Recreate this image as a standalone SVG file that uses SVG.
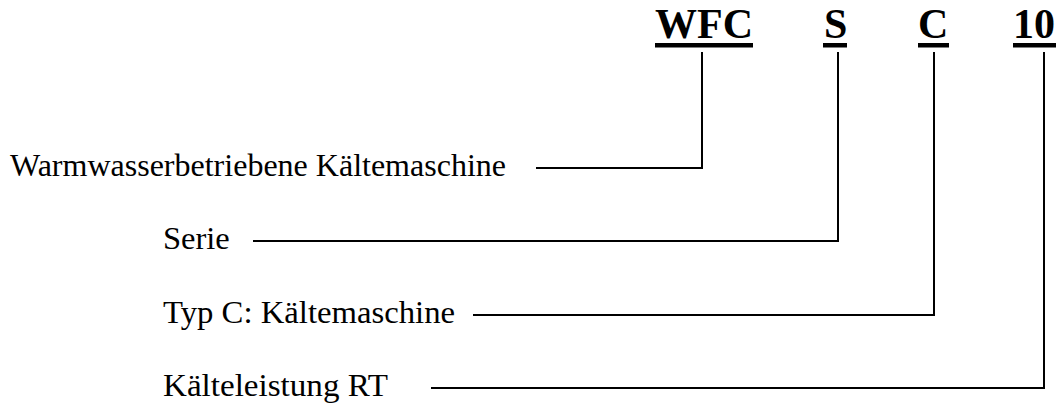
<svg xmlns="http://www.w3.org/2000/svg" width="1058" height="407" viewBox="0 0 1058 407">
<style>
.code{font-family:"Liberation Serif","Times New Roman",serif;font-weight:bold;font-size:42px;fill:#000}
.lbl{font-family:"Liberation Serif","Times New Roman",serif;font-size:32.5px;fill:#000}
.ul{fill:#000}
.conn{fill:none;stroke:#000;stroke-width:2}
</style>
<rect width="1058" height="407" fill="#fff"/>
<g id="code-WFC"><text class="code" x="655" y="38">WFC</text><rect class="ul" x="655" y="43" width="98" height="4.5"/></g>
<g id="code-S"><text class="code" x="824" y="38">S</text><rect class="ul" x="823" y="43" width="24" height="4.5"/></g>
<g id="code-C"><text class="code" x="918" y="38">C</text><rect class="ul" x="918" y="43" width="31" height="4.5"/></g>
<g id="code-10"><text class="code" x="1013" y="38">10</text><rect class="ul" x="1013" y="43" width="43" height="4.5"/></g>
<g id="label-warmwasser"><text class="lbl" x="10" y="176" textLength="496" lengthAdjust="spacingAndGlyphs">Warmwasserbetriebene Kältemaschine</text></g>
<g id="label-serie"><text class="lbl" x="163" y="249">Serie</text></g>
<g id="label-typ"><text class="lbl" x="163" y="323" textLength="292" lengthAdjust="spacingAndGlyphs">Typ C: Kältemaschine</text></g>
<g id="label-leistung"><text class="lbl" x="163" y="396" textLength="225" lengthAdjust="spacingAndGlyphs">Kälteleistung RT</text></g>
<g id="connectors">
<polyline class="conn" points="536,168 702,168 702,52"/>
<polyline class="conn" points="253,241 838,241 838,52"/>
<polyline class="conn" points="473,315 934,315 934,52"/>
<polyline class="conn" points="431,388 1044,388 1044,52"/>
</g>
</svg>
